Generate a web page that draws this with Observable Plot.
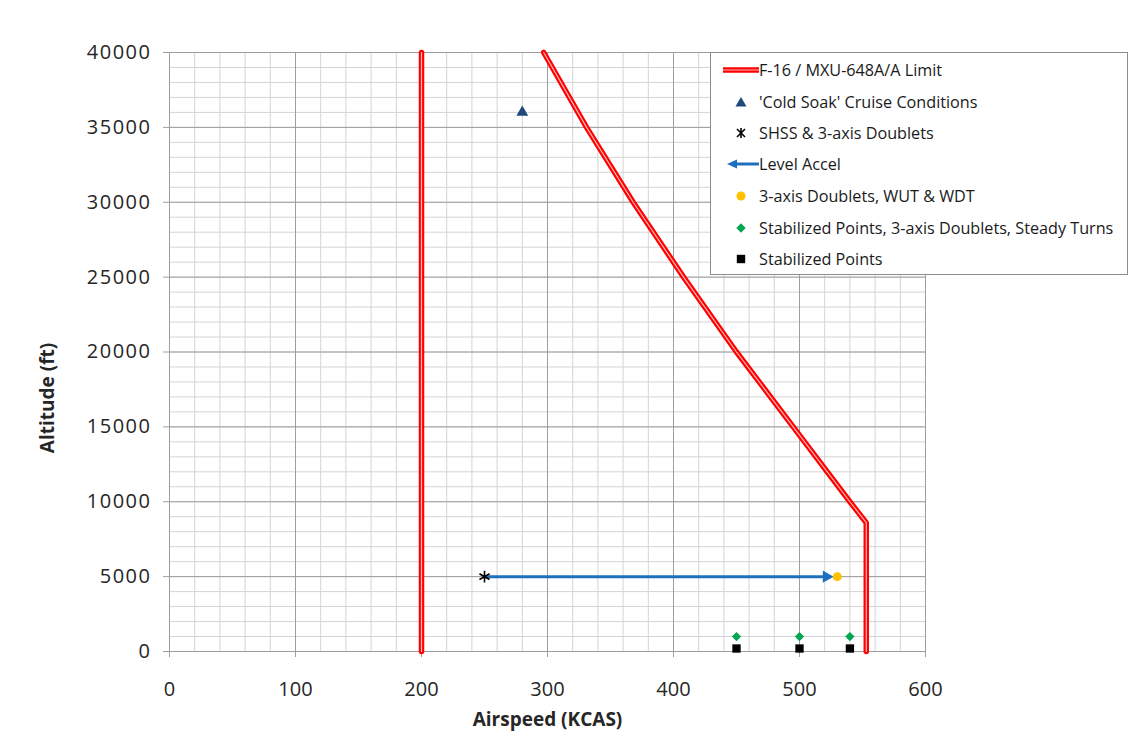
<!DOCTYPE html>
<html>
<head>
<meta charset="utf-8">
<script src="https://cdn.jsdelivr.net/npm/d3@7"></script>
<script src="https://cdn.jsdelivr.net/npm/@observablehq/plot@0.6"></script>
<style>
  html, body { margin: 0; padding: 0; background: #fff; }
  #wrap { position: relative; width: 1145px; height: 744px; font-family: "Open Sans", sans-serif; }
  #wrap g[aria-label="y-axis tick label"] text { letter-spacing: 1.5px; }
  #legend {
    position: absolute; left: 710px; top: 52px; width: 418px; height: 223px;
    box-sizing: border-box; border: 1px solid #8c8c8c; background: #fff;
  }
  .row { position: absolute; left: 0; height: 24px; display: flex; align-items: center; }
  .row svg { display: block; }
  .row span { font-size: 16.2px; color: #1a1a1a; white-space: nowrap; }
</style>
</head>
<body>
<div id="wrap"></div>
<script>
// Airspeed / altitude limit envelope (KCAS, ft)
const lowLimitSpeed = [200, 200];
const lowLimitAlt = [0, 40000];
const highLimitSpeed = [297, 331, 368, 408, 450, 495, 540, 553, 553];
const highLimitAlt = [40000, 35000, 30000, 25000, 20000, 15000, 10000, 8600, 0];

// Test conditions
const coldSoakSpeed = [280];
const coldSoakAlt = [36000];
const shssSpeed = [250];
const shssAlt = [5000];
const accelStartSpeed = [250];
const accelEndSpeed = [525];
const accelAlt = [5000];
const doubletSpeed = [530];
const doubletAlt = [5000];
const turnSpeed = [450, 500, 540];
const turnAlt = [1000, 1000, 1000];
const stabSpeed = [450, 500, 540];
const stabAlt = [200, 200, 200];

// Axis ticks
const speedTicks = [0, 100, 200, 300, 400, 500, 600];
const altTicks = [0, 5000, 10000, 15000, 20000, 25000, 30000, 35000, 40000];
const speedMinor = d3.range(0, 601, 20);
const altMinor = d3.range(0, 40001, 1000);

const legendLabels = [
  "F-16 / MXU-648A/A Limit",
  "'Cold Soak' Cruise Conditions",
  "SHSS & 3-axis Doublets",
  "Level Accel",
  "3-axis Doublets, WUT & WDT",
  "Stabilized Points, 3-axis Doublets, Steady Turns",
  "Stabilized Points"
];

const zip = (xs, ys) => xs.map((x, i) => ({x, y: ys[i]}));
const lowLimit = zip(lowLimitSpeed, lowLimitAlt);
const highLimit = zip(highLimitSpeed, highLimitAlt);
const accel = accelStartSpeed.map((x1, i) => ({x1, x2: accelEndSpeed[i], y: accelAlt[i]}));

const RED = "#ff0000", RED_IN = "#ffb8b8";
const BLUE = "#1f6fc0";

const chart = Plot.plot({
  width: 1145,
  height: 744,
  marginLeft: 169,
  marginRight: 220,
  marginTop: 52,
  marginBottom: 93,
  style: {fontFamily: "Open Sans, sans-serif", fontSize: "20px", color: "#262626", background: "#fff"},
  x: {domain: [0, 600]},
  y: {domain: [0, 40000]},
  marks: [
    Plot.ruleX(speedMinor, {stroke: "#d4d4d4", strokeWidth: 1}),
    Plot.ruleY(altMinor, {stroke: "#d4d4d4", strokeWidth: 1}),
    Plot.ruleX(speedTicks, {stroke: "#9e9e9e", strokeWidth: 1}),
    Plot.ruleY(altTicks, {stroke: "#9e9e9e", strokeWidth: 1}),
    Plot.axisX({ticks: speedTicks, tickSize: 6, tickPadding: 24, stroke: "#9e9e9e", label: null, tickFormat: d => String(d)}),
    Plot.axisY({ticks: altTicks, tickSize: 6, tickPadding: 12, stroke: "#9e9e9e", label: null, tickFormat: d => String(d)}),
    Plot.text(["Airspeed (KCAS)"], {frameAnchor: "bottom", dy: 74, fontWeight: "bold", fontSize: 19, fill: "#262626"}),
    Plot.text(["Altitude (ft)"], {frameAnchor: "left", dx: -122, dy: 46, rotate: -90, textAnchor: "middle", fontWeight: "bold", fontSize: 19, fill: "#262626"}),

    // limit lines drawn as a double red stroke
    Plot.line(lowLimit, {x: "x", y: "y", stroke: RED, strokeWidth: 5.5}),
    Plot.line(lowLimit, {x: "x", y: "y", stroke: RED_IN, strokeWidth: 1.2}),
    Plot.line(highLimit, {x: "x", y: "y", stroke: RED, strokeWidth: 5.5, strokeLinejoin: "miter"}),
    Plot.line(highLimit, {x: "x", y: "y", stroke: RED_IN, strokeWidth: 1.2, strokeLinejoin: "miter"}),

    // level acceleration arrow
    Plot.link(accel, {x1: "x1", x2: "x2", y1: "y", y2: "y", stroke: BLUE, strokeWidth: 3}),
    Plot.dot(accel, {x: "x2", y: "y", symbol: "triangle", r: 4.6, rotate: 90, dx: -4.6, fill: BLUE, stroke: "none"}),

    Plot.dot(zip(coldSoakSpeed, coldSoakAlt), {x: "x", y: "y", symbol: "triangle", r: 4.4, fill: "#1f497d", stroke: "none"}),
    Plot.dot(zip(shssSpeed, shssAlt), {x: "x", y: "y", symbol: "asterisk", r: 5.5, stroke: "#000", strokeWidth: 1.6}),
    Plot.dot(zip(doubletSpeed, doubletAlt), {x: "x", y: "y", symbol: "circle", r: 4.5, fill: "#ffc000", stroke: "none"}),
    Plot.dot(zip(turnSpeed, turnAlt), {x: "x", y: "y", symbol: "square", r: 3.7, rotate: 45, fill: "#00a650", stroke: "none"}),
    Plot.dot(zip(stabSpeed, stabAlt), {x: "x", y: "y", symbol: "square", r: 4.7, fill: "#000", stroke: "none"})
  ]
});

const wrap = document.getElementById("wrap");
wrap.appendChild(chart);

// Legend box drawn over the upper right of the plot
const symbols = [
  `<line x1="12" y1="12" x2="48" y2="12" stroke="${RED}" stroke-width="5.5"/><line x1="12" y1="12" x2="48" y2="12" stroke="${RED_IN}" stroke-width="1.2"/>`,
  `<path d="M30,7 L35.5,16.5 L24.5,16.5 Z" fill="#1f497d"/>`,
  `<g stroke="#000" stroke-width="1.6"><line x1="26" y1="8" x2="34" y2="16"/><line x1="34" y1="8" x2="26" y2="16"/><line x1="30" y1="7" x2="30" y2="17"/></g>`,
  `<line x1="22" y1="12" x2="48" y2="12" stroke="${BLUE}" stroke-width="3"/><path d="M16,12 L26,7.5 L26,16.5 Z" fill="${BLUE}"/>`,
  `<circle cx="30" cy="12" r="4.5" fill="#ffc000"/>`,
  `<path d="M30,7.3 L34.7,12 L30,16.7 L25.3,12 Z" fill="#00a650"/>`,
  `<rect x="25.8" y="7.8" width="8.4" height="8.4" fill="#000"/>`
];
const legend = document.createElement("div");
legend.id = "legend";
const rowCenters = [17, 48.7, 80, 111.3, 143, 174.7, 206];
legendLabels.forEach((label, i) => {
  const row = document.createElement("div");
  row.className = "row";
  row.style.top = (rowCenters[i] - 12) + "px";
  row.innerHTML = `<svg width="48" height="24">${symbols[i]}</svg>`;
  const span = document.createElement("span");
  span.textContent = label;
  row.appendChild(span);
  legend.appendChild(row);
});
wrap.appendChild(legend);
</script>
</body>
</html>
